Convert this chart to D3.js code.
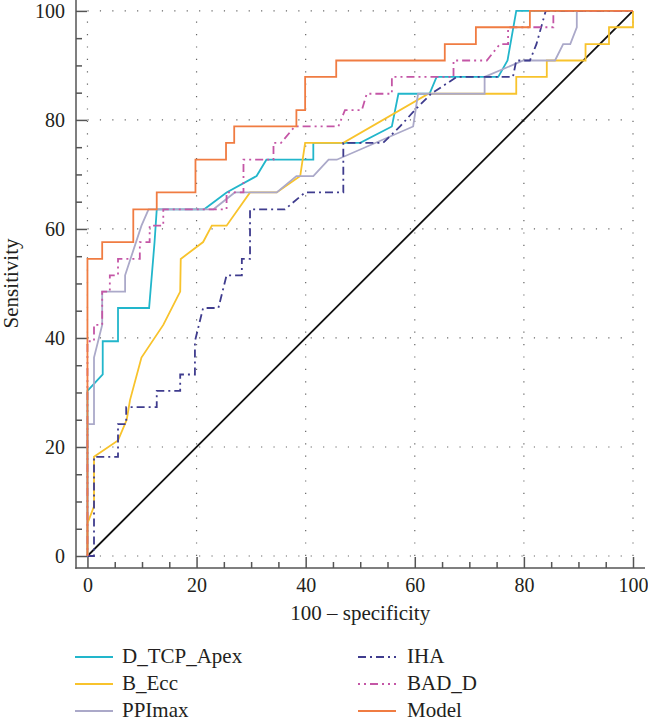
<!DOCTYPE html>
<html>
<head>
<meta charset="utf-8">
<script src="https://cdn.jsdelivr.net/npm/d3@7"></script>
<style>
  html, body { margin: 0; padding: 0; background: #fff; }
  svg { display: block; }
  svg text { font-family: "Liberation Serif", "Times New Roman", "DejaVu Serif", serif !important; fill: #231f20; }
</style>
</head>
<body>
<svg id="chart" width="648" height="721"></svg>
<script>
// ---- data (100 - specificity, sensitivity) ----
const seriesNames = ["D_TCP_Apex", "B_Ecc", "PPImax", "IHA", "BAD_D", "Model"];

const dTcpApex = [[0,0],[0,30.3],[2.8,33.3],[2.8,39.4],[5.6,39.4],[5.6,45.5],[11.3,45.5],[12.3,57.6],[12.7,63.6],
  [21.4,63.6],[25.5,66.7],[31.0,69.7],[32.8,72.7],[41.4,72.7],[41.4,75.8],[50.0,75.8],[55.8,78.8],[57.0,84.8],
  [62.7,84.8],[64.0,87.9],[75.3,87.9],[77.0,90.9],[78.6,100],[100,100]];

const bEcc = [[0,0],[0,6.0],[1.2,9.1],[1.2,18.2],[5.6,21.2],[7.2,25.0],[7.8,28.6],[9.9,36.4],[13.9,42.4],[17.0,48.5],
  [17.1,54.5],[21.2,57.6],[22.8,60.6],[25.5,60.6],[29.8,66.7],[34.7,66.7],[39.0,69.7],[39.9,75.8],[46.9,75.8],
  [62.5,84.8],[78.6,84.8],[78.6,87.9],[84.2,87.9],[84.2,90.9],[91.3,90.9],[91.3,93.9],[95.6,93.9],[95.6,97.0],
  [100,97.0],[100,100]];

const ppiMax = [[0,0],[0,24.2],[1.2,24.2],[1.2,36.4],[2.7,42.4],[2.7,48.5],[6.9,48.5],[6.9,51.5],[9.9,60.6],
  [11.2,63.6],[23.1,63.6],[27.0,66.7],[34.7,66.7],[38.3,69.7],[41.4,69.7],[44.2,72.7],[45.7,72.7],[59.7,78.8],
  [60.6,84.8],[72.8,84.8],[72.8,87.9],[79.9,90.9],[85.7,90.9],[87.2,93.9],[88.5,93.9],[89.7,97.0],[89.7,100],[100,100]];

const iha = [[0,0],[1.2,0],[1.2,18.2],[5.6,18.2],[5.6,24.2],[7.1,24.2],[7.1,27.3],[12.7,27.3],[12.7,30.3],
  [17.0,30.3],[17.0,33.3],[19.7,33.3],[19.7,39.4],[21.2,45.5],[24.0,45.5],[25.5,51.5],[28.3,51.5],[28.3,54.5],
  [29.8,54.5],[29.8,63.6],[36.2,63.6],[39.9,66.7],[46.9,66.7],[46.9,75.8],[54.2,75.8],[57.3,78.8],[60.0,81.8],
  [63.0,84.8],[67.7,87.9],[78.0,87.9],[78.6,90.9],[81.1,90.9],[82.3,93.9],[84.0,100],[100,100]];

const badD = [[0,0],[0,39.4],[1.2,39.4],[1.2,42.4],[2.7,42.4],[2.7,48.5],[4.1,48.5],[4.1,51.5],[5.6,51.5],
  [5.6,54.5],[9.6,54.5],[9.6,57.6],[11.4,57.6],[11.4,60.6],[13.9,60.6],[13.9,63.6],[25.5,63.6],[25.5,66.7],
  [28.6,66.7],[28.6,72.7],[34.1,72.7],[34.1,75.8],[35.5,75.8],[38.0,78.8],[46.0,78.8],[47.2,81.8],[50.3,81.8],
  [51.2,84.8],[55.8,84.8],[55.8,87.9],[67.1,87.9],[67.1,90.9],[73.2,90.9],[75.6,93.9],[77.1,93.9],[77.1,97.0],
  [85.4,97.0],[85.4,100],[100,100]];

const model = [[0,0],[0,54.5],[2.7,54.5],[2.7,57.6],[8.4,57.6],[8.4,63.6],[12.7,63.6],[12.7,66.7],[19.8,66.7],
  [19.8,72.7],[25.4,72.7],[25.4,75.8],[26.9,75.8],[26.9,78.8],[38.3,78.8],[38.3,81.8],[39.9,81.8],[39.9,87.9],
  [45.6,87.9],[45.6,90.9],[65.5,90.9],[65.5,93.9],[71.2,93.9],[71.2,97.0],[81.1,97.0],[81.1,100],[100,100]];

const diagonal = [[0,0],[100,100]];
const majorTicks = [0, 20, 40, 60, 80, 100];
const minorTicks = d3.range(0, 101, 5);
const xTitle = "100 \u2013 specificity";
const yTitle = "Sensitivity";

// ---- styles ----
const styles = {
  "D_TCP_Apex": { color: "#22b6cb", dash: null },
  "B_Ecc":      { color: "#f8c32c", dash: null },
  "PPImax":     { color: "#aba9c9", dash: null },
  "IHA":        { color: "#3f3c8e", dash: "8,4,2,4" },
  "BAD_D":      { color: "#c456a6", dash: "2,4,2,4,8,4" },
  "Model":      { color: "#f07c42", dash: null }
};
const dataByName = { "D_TCP_Apex": dTcpApex, "B_Ecc": bEcc, "PPImax": ppiMax, "IHA": iha, "BAD_D": badD, "Model": model };

const svg = d3.select("#chart");
const x = d3.scaleLinear().domain([-2.1, 102.2]).range([76, 645]);
const y = d3.scaleLinear().domain([-2.2, 102]).range([568, 0]);

// grid (dotted)
const grid = svg.append("g");
grid.selectAll("line.gx").data(majorTicks).join("line")
  .attr("x1", d => x(d)).attr("x2", d => x(d)).attr("y1", y(0)).attr("y2", y(100))
  .attr("stroke", "#666").attr("stroke-width", 1.2).attr("stroke-dasharray", "1.2,11.2");
grid.selectAll("line.gy").data(majorTicks).join("line")
  .attr("y1", d => y(d)).attr("y2", d => y(d)).attr("x1", x(0)).attr("x2", x(100))
  .attr("stroke", "#666").attr("stroke-width", 1.2).attr("stroke-dasharray", "1.2,11.2");

// axes
const fontSize = 20;
function styleAxis(g) {
  g.attr("font-family", null).attr("font-size", null);
  g.select(".domain").remove();
  g.selectAll(".tick line").attr("stroke", "#555").attr("stroke-width", 1.5);
  g.selectAll(".tick text").attr("font-size", fontSize).attr("fill", "#231f20");
}
svg.append("g").attr("transform", `translate(76,0)`)
  .call(d3.axisLeft(y).tickValues(minorTicks.filter(v => v % 20)).tickSizeInner(-6).tickSizeOuter(0).tickFormat(""))
  .call(styleAxis);
svg.append("g").attr("transform", `translate(76,0)`)
  .call(d3.axisLeft(y).tickValues(majorTicks).tickSizeInner(-11).tickSizeOuter(0).tickPadding(11))
  .call(styleAxis);
svg.append("g").attr("transform", `translate(0,568)`)
  .call(d3.axisBottom(x).tickValues(minorTicks.filter(v => v % 20)).tickSizeInner(-6).tickSizeOuter(0).tickFormat(""))
  .call(styleAxis);
svg.append("g").attr("transform", `translate(0,568)`)
  .call(d3.axisBottom(x).tickValues(majorTicks).tickSizeInner(-11).tickSizeOuter(0).tickPadding(10))
  .call(styleAxis);
// axis lines
svg.append("line").attr("x1", 76).attr("x2", 76).attr("y1", y(102)).attr("y2", 568.75)
  .attr("stroke", "#555").attr("stroke-width", 1.5);
svg.append("line").attr("x1", 75.25).attr("x2", x(102.2)).attr("y1", 568).attr("y2", 568)
  .attr("stroke", "#555").attr("stroke-width", 1.5);

// titles
svg.append("text").attr("x", (x(0) + x(100)) / 2).attr("y", 620).attr("text-anchor", "middle")
  .attr("font-size", 21).text(xTitle);
svg.append("text").attr("transform", `translate(18,${(y(0) + y(100)) / 2}) rotate(-90)`)
  .attr("text-anchor", "middle").attr("font-size", 21).text(yTitle);

// curves
const line = d3.line().x(d => x(d[0])).y(d => y(d[1]));
svg.append("path").attr("d", line(diagonal)).attr("fill", "none").attr("stroke", "#111").attr("stroke-width", 1.8);
const curves = svg.append("g").attr("fill", "none");
seriesNames.forEach(name => {
  const s = styles[name];
  curves.append("path").attr("d", line(dataByName[name]))
    .attr("stroke", s.color).attr("stroke-width", 1.8)
    .attr("stroke-dasharray", s.dash)
    .attr("stroke-linejoin", "miter");
});

// legend
const legendPos = [
  { lx: 75, tx: 122, ly: 657 }, { lx: 75, tx: 122, ly: 684 }, { lx: 75, tx: 122, ly: 711 },
  { lx: 358, tx: 407, ly: 657 }, { lx: 358, tx: 407, ly: 684 }, { lx: 358, tx: 407, ly: 711 }
];
const legend = svg.append("g");
seriesNames.forEach((name, i) => {
  const p = legendPos[i], s = styles[name];
  legend.append("line").attr("x1", p.lx).attr("x2", p.lx + 38).attr("y1", p.ly).attr("y2", p.ly)
    .attr("stroke", s.color).attr("stroke-width", 1.8).attr("stroke-dasharray", s.dash);
  legend.append("text").attr("x", p.tx).attr("y", p.ly + 6).attr("font-size", 21).text(name);
});
</script>
</body>
</html>
